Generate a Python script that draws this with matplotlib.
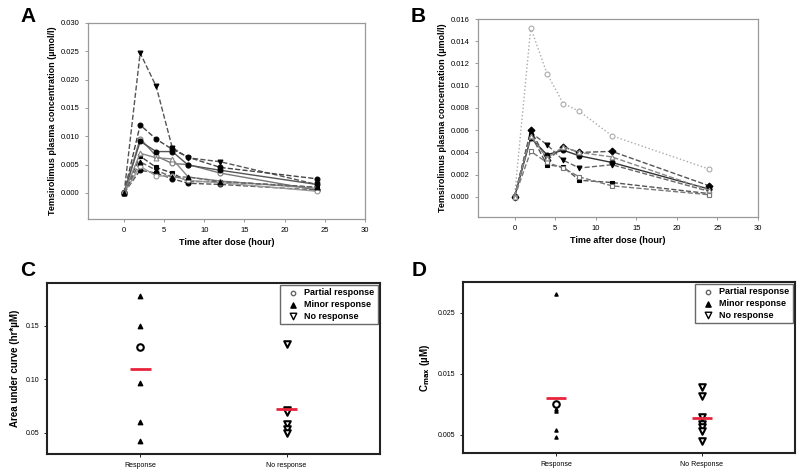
import numpy as np
import matplotlib
matplotlib.use("Agg")
import matplotlib.pyplot as plt

plt.rcParams['font.family'] = ['Liberation Sans', 'DejaVu Sans']

# sampling times (hours)
times = [0, 2, 4, 6, 8, 12, 24]

# panel A: concentration curves (umol/l)
curves_a = [
    [0, 0.0247, 0.0188, 0.0080, 0.0062, 0.0055, 0.0015],
    [0, 0.0120, 0.0095, 0.0077, 0.0063, 0.0045, 0.0025],
    [0, 0.0096, 0.0065, 0.0052, 0.0050, 0.0035, 0.0005],
    [0, 0.0091, 0.0073, 0.0073, 0.0049, 0.0040, 0.0015],
    [0, 0.0065, 0.0045, 0.0035, 0.0020, 0.0020, 0.0010],
    [0, 0.0070, 0.0062, 0.0060, 0.0028, 0.0021, 0.0008],
    [0, 0.0040, 0.0035, 0.0025, 0.0017, 0.0015, 0.0005],
    [0, 0.0047, 0.0030, 0.0030, 0.0022, 0.0018, 0.0003],
    [0, 0.0055, 0.0040, 0.0028, 0.0028, 0.0020, 0.0010],
]
markers_a = ['v', 'o', 'o', 'o', 's', '^', 'o', 'o', '^']
filled_a = [True, True, False, True, True, False, True, False, True]
styles_a = ['--', '--', '-', '-', '--', '-', '--', '-', '--']

# panel B
curves_b = [
    [0, 0.0152, 0.0111, 0.0084, 0.0077, 0.0055, 0.0025],
    [0, 0.0060, 0.0033, 0.0045, 0.0040, 0.0041, 0.0010],
    [0, 0.0058, 0.0047, 0.0033, 0.0026, 0.0029, 0.0005],
    [0, 0.0053, 0.0038, 0.0042, 0.0037, 0.0031, 0.0007],
    [0, 0.0056, 0.0029, 0.0027, 0.0015, 0.0013, 0.0003],
    [0, 0.0041, 0.0031, 0.0026, 0.0018, 0.0010, 0.0002],
    [0, 0.0055, 0.0035, 0.0045, 0.0040, 0.0036, 0.0006],
]
markers_b = ['o', 'D', 'v', 'o', 's', 's', '^']
filled_b = [False, True, True, True, True, False, False]
styles_b = [':', '--', '--', '-', '--', '--', '--']
colors_b = ['#aaaaaa', '#555555', '#666666', '#333333', '#555555', '#777777', '#888888']

# panel C: AUC (hr*uM)
auc_minor = [0.1775, 0.150, 0.096, 0.060, 0.042]
auc_partial = [0.130]
auc_none = [0.133, 0.071, 0.069, 0.058, 0.053, 0.050]

# panel D: Cmax (uM)
cmax_minor = [0.028, 0.0092, 0.0088, 0.0058, 0.0047]
cmax_partial = [0.0100]
cmax_none = [0.0128, 0.0113, 0.0079, 0.0068, 0.0063, 0.0056, 0.0039]

fig = plt.figure(figsize=(8, 4.75), dpi=100)


def pk_axes(rect, curves, markers, filled, styles, colors, ylim, yticks, fmt):
    ax = fig.add_axes(rect)
    for i, c in enumerate(curves):
        col = colors[i]
        ax.plot(times, c, linestyle=styles[i], color=col, linewidth=1.0,
                marker=markers[i], markersize=3.5,
                markerfacecolor='black' if filled[i] else 'white',
                markeredgecolor='black' if filled[i] else col,
                markeredgewidth=0.8)
    ax.set_xlim(-4.5, 30)
    ax.set_ylim(*ylim)
    ax.set_xticks([0, 5, 10, 15, 20, 25, 30])
    ax.set_yticks(yticks)
    ax.set_yticklabels([fmt % v for v in yticks])
    ax.tick_params(labelsize=5.5, length=2.5, width=0.6, color='#888888')
    for s in ax.spines.values():
        s.set_color('#999999')
        s.set_linewidth(0.9)
    ax.set_xlabel('Time after dose (hour)', fontsize=6.5, fontweight='bold', labelpad=3)
    ax.set_ylabel('Temsirolimus plasma concentration (\u00b5mol/l)', fontsize=6.5,
                  fontweight='bold', labelpad=3)
    return ax


colors_a = ['#555555', '#444444', '#777777', '#555555', '#444444', '#888888',
            '#555555', '#999999', '#666666']
pk_axes([0.11, 0.539, 0.346, 0.4126], curves_a, markers_a, filled_a, styles_a, colors_a,
        (-0.0046, 0.030), [0, 0.005, 0.010, 0.015, 0.020, 0.025, 0.030], '%.3f')
pk_axes([0.5975, 0.5432, 0.35, 0.4168], curves_b, markers_b, filled_b, styles_b, colors_b,
        (-0.0018, 0.016), [0, 0.002, 0.004, 0.006, 0.008, 0.010, 0.012, 0.014, 0.016], '%.3f')


def group_axes(rect, minor, partial, none, ylim, yticks, ylabel, xlabels, msize):
    ax = fig.add_axes(rect)
    ax.scatter([1] * len(minor), minor, marker='^', s=msize, color='black', zorder=3)
    ax.scatter([1] * len(partial), partial, marker='o', s=22, facecolor='white',
               edgecolor='black', linewidth=1.5, zorder=3)
    ax.scatter([2] * len(none), none, marker='v', s=22, facecolor='white',
               edgecolor='black', linewidth=1.5, zorder=3)
    resp = minor + partial
    ax.hlines(np.mean(resp), 0.93, 1.07, color='#e8243c', linewidth=2, zorder=4)
    ax.hlines(np.mean(none), 1.93, 2.07, color='#e8243c', linewidth=2, zorder=4)
    ax.set_xlim(0.36, 2.64)
    ax.set_ylim(*ylim)
    ax.set_xticks([1, 2])
    ax.set_xticklabels(xlabels)
    ax.set_yticks(yticks)
    ax.tick_params(labelsize=5, length=2, width=0.6)
    for s in ax.spines.values():
        s.set_color('#222222')
        s.set_linewidth(1.5)
    ax.set_ylabel(ylabel, fontsize=7, fontweight='bold', labelpad=4)
    h1 = ax.scatter([], [], marker='o', s=10, facecolor='white', edgecolor='#666666')
    h2 = ax.scatter([], [], marker='^', s=14, color='black')
    h3 = ax.scatter([], [], marker='v', s=22, facecolor='white', edgecolor='black')
    leg = ax.legend([h1, h2, h3], ['Partial response', 'Minor response', 'No response'],
                    loc='upper right', frameon=True, fancybox=False,
                    borderaxespad=0.2, handletextpad=0.3, borderpad=0.4,
                    labelspacing=0.3, prop={'weight': 'bold', 'size': 6.5})
    leg.get_frame().set_edgecolor('#444444')
    leg.get_frame().set_linewidth(1.0)
    return ax


group_axes([0.05875, 0.0442, 0.41625, 0.36], auc_minor, auc_partial, auc_none,
           (0.030, 0.19), [0.05, 0.10, 0.15], 'Area under curve (hr*\u00b5M)',
           ['Response', 'No response'], 10)
group_axes([0.57875, 0.0463, 0.415, 0.36], cmax_minor, cmax_partial, cmax_none,
           (0.002, 0.030), [0.005, 0.015, 0.025], 'C$_{\\mathbf{max}}$ (\u00b5M)',
           ['Response', 'No Response'], 5)

for txt, x, y in [('A', 0.025, 0.965), ('B', 0.513, 0.965),
                  ('C', 0.025, 0.43), ('D', 0.515, 0.43)]:
    fig.text(x, y, txt, fontsize=15, fontweight='bold', va='center', ha='left')

fig.savefig('out.png', dpi=100)
